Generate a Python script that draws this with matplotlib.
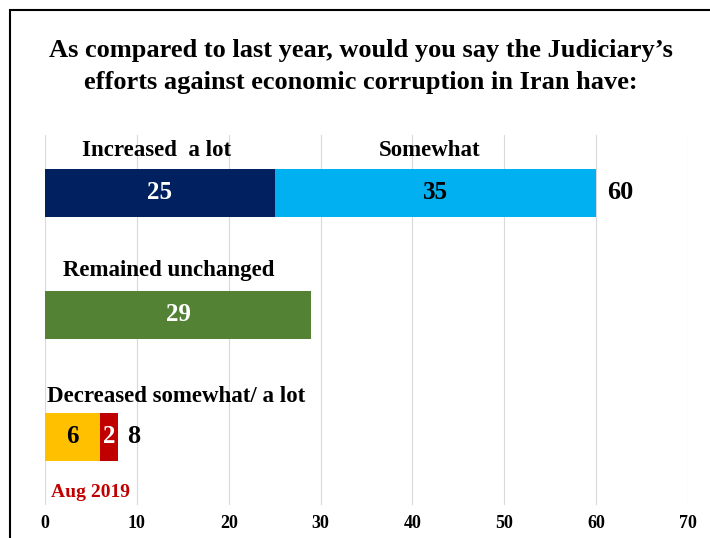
import numpy as np
import matplotlib.pyplot as plt
from matplotlib.patches import Rectangle

plt.rcParams['font.family'] = ['Liberation Serif', 'DejaVu Serif']
plt.rcParams['font.weight'] = 'bold'

# Survey data (percent)
groups = ['Increased', 'Remained unchanged', 'Decreased']
first_part = [25, 29, 6]
second_part = [35, 0, 2]
totals = [60, 29, 8]
first_colors = ['#002060', '#548235', '#FFC000']
second_colors = ['#00B0F0', '#548235', '#C00000']
first_text = ['white', 'white', 'black']
second_text = ['black', 'white', 'white']
x_ticks = [0, 10, 20, 30, 40, 50, 60, 70]

fig = plt.figure(figsize=(7.10, 5.38), dpi=100)

# outer frame (cropped on right/bottom)
fig.patches.append(Rectangle((10 / 710, -0.1), 1.2, 1 - 10 / 538 + 0.1,
                             transform=fig.transFigure, fill=False,
                             edgecolor='black', linewidth=1.5))

fig.text(0.508, 1 - 50 / 538, "As compared to last year, would you say the Judiciary\u2019s",
         ha='center', va='center', fontsize=19, fontweight='bold')
fig.text(0.508, 1 - 83 / 538, "efforts against economic corruption in Iran have:",
         ha='center', va='center', fontsize=19, fontweight='bold')

ax = fig.add_axes([45 / 710, 1 - 505 / 538, (688 - 45) / 710, (505 - 135) / 538])
y = np.arange(len(groups))
h = 0.39
ax.barh(y, first_part, height=h, color=first_colors, zorder=3)
ax.barh(y, second_part, left=first_part, height=h, color=second_colors, zorder=3)

for i in range(len(groups)):
    ax.text(first_part[i] / 2, y[i], str(first_part[i]), ha='center', va='center',
            color=first_text[i], fontsize=18, fontweight='bold', zorder=4)
    if second_part[i] > 0:
        ax.text(first_part[i] + second_part[i] / 2, y[i], str(second_part[i]),
                ha='center', va='center', color=second_text[i], fontsize=18,
                fontweight='bold', zorder=4)
ax.text(totals[0] + 1.2, y[0], str(totals[0]), ha='left', va='center', fontsize=19, fontweight='bold')
ax.text(totals[2] + 0.9, y[2], str(totals[2]), ha='left', va='center', fontsize=19, fontweight='bold')

ax.text(12.1, -0.35, 'Increased  a lot', ha='center', va='center', fontsize=16.5, fontweight='bold')
ax.text(41.9, -0.35, 'Somewhat', ha='center', va='center', fontsize=16.5, fontweight='bold')
ax.text(2.0, 0.64, 'Remained unchanged', ha='left', va='center', fontsize=16.5, fontweight='bold')
ax.text(0.2, 1.67, 'Decreased somewhat/ a lot', ha='left', va='center', fontsize=16.5, fontweight='bold')
ax.text(5.0, 2.46, 'Aug 2019', ha='center', va='center', fontsize=14, fontweight='bold', color='#C00000')

ax.set_xlim(0, 70)
ax.set_ylim(2.56, -0.475)
ax.set_xticks(x_ticks)
ax.set_xticklabels([str(t) for t in x_ticks], fontsize=13, fontweight='bold')
ax.set_yticks([])
ax.tick_params(axis='x', length=0, pad=7)
ax.grid(axis='x', color='#d9d9d9', linewidth=0.8, zorder=0)
for s in ax.spines.values():
    s.set_visible(False)

plt.savefig('out.png', dpi=100)
